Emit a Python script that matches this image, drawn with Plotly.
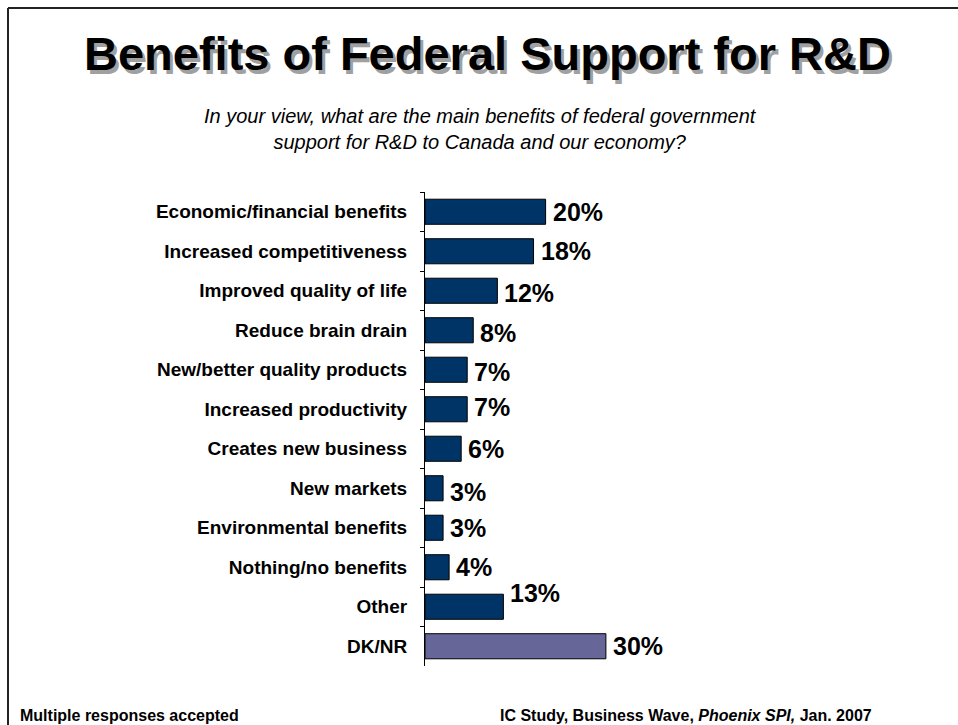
import plotly.graph_objects as go

# Survey results: share of respondents naming each benefit (multiple responses)
categories = [
    "Economic/financial benefits",
    "Increased competitiveness",
    "Improved quality of life",
    "Reduce brain drain",
    "New/better quality products",
    "Increased productivity",
    "Creates new business",
    "New markets",
    "Environmental benefits",
    "Nothing/no benefits",
    "Other",
    "DK/NR",
]
values = [20, 18, 12, 8, 7, 7, 6, 3, 3, 4, 13, 30]

# small vertical nudges (px, positive = up) for the value labels
label_nudge = [0, 0, -2, -3, -2, 2, 0, -4, 0, 0, 14, 0]

W, H = 958, 725
NAVY = "#003366"
LAVENDER = "#666699"
FONT = "Arial, Liberation Sans, sans-serif"

def px(x):
    return x / W

def py(y):
    return 1 - y / H

bar_colors = [NAVY] * (len(categories) - 1) + [LAVENDER]

fig = go.Figure()
fig.add_trace(go.Bar(
    x=values,
    y=categories,
    orientation="h",
    width=0.635,
    marker=dict(color=bar_colors, line=dict(color="black", width=1)),
    hoverinfo="x+y",
))

# value labels to the right of each bar
for cat, v, dy in zip(categories, values, label_nudge):
    fig.add_annotation(
        x=v, y=cat, xref="x", yref="y",
        text=f"<b>{v}%</b>", showarrow=False,
        xanchor="left", yanchor="middle", xshift=5, yshift=dy,
        font=dict(family=FONT, size=25, color="black"),
    )

# title with a soft drop shadow
title = "<b>Benefits of Federal Support for R&D</b>"
fig.add_annotation(x=px(490), y=py(57), xref="paper", yref="paper", text=title,
                   showarrow=False, xanchor="center", yanchor="middle",
                   font=dict(family=FONT, size=47, color="#a0a0a0"))
fig.add_annotation(x=px(487), y=py(54), xref="paper", yref="paper", text=title,
                   showarrow=False, xanchor="center", yanchor="middle",
                   font=dict(family=FONT, size=47, color="black"))

# survey question
fig.add_annotation(
    x=px(480), y=py(129), xref="paper", yref="paper",
    text="<i>In your view, what are the main benefits of federal government<br>"
         "support for R&D to Canada and our economy?</i>",
    showarrow=False, xanchor="center", yanchor="middle", align="center",
    font=dict(family=FONT, size=20, color="black"),
)

# footer notes
fig.add_annotation(x=px(18), y=py(715), xref="paper", yref="paper",
                   text="<b>Multiple responses accepted</b>", showarrow=False,
                   xanchor="left", yanchor="middle",
                   font=dict(family=FONT, size=16, color="black"))
fig.add_annotation(x=px(498), y=py(715), xref="paper", yref="paper",
                   text="<b>IC Study, Business Wave, <i>Phoenix SPI,</i> Jan. 2007</b>",
                   showarrow=False, xanchor="left", yanchor="middle",
                   font=dict(family=FONT, size=16, color="black"))

# slide frame (top and left edges)
fig.add_shape(type="line", xref="paper", yref="paper",
              x0=px(8), y0=py(8), x1=1, y1=py(8),
              line=dict(color="#222222", width=2))
fig.add_shape(type="line", xref="paper", yref="paper",
              x0=px(8), y0=py(8), x1=px(8), y1=0,
              line=dict(color="#222222", width=2))

x0_px, px_per_pct = 425, 6.03
fig.update_layout(
    width=W, height=H,
    margin=dict(l=0, r=0, t=0, b=0),
    paper_bgcolor="white", plot_bgcolor="white",
    showlegend=False,
    xaxis=dict(
        domain=[px(x0_px), 1],
        range=[0, (W - x0_px) / px_per_pct],
        visible=False,
    ),
    yaxis=dict(
        domain=[py(666), py(192)],
        autorange="reversed",
        type="category",
        showline=True, linecolor="black", linewidth=1,
        ticks="outside", tickson="boundaries", ticklen=4, tickcolor="black",
        ticklabelstandoff=13,
        tickfont=dict(family=FONT, size=19, color="black"),
        tickprefix="<b>", ticksuffix="</b>",
        showgrid=False, zeroline=False,
    ),
)

fig.write_html("out.html")
